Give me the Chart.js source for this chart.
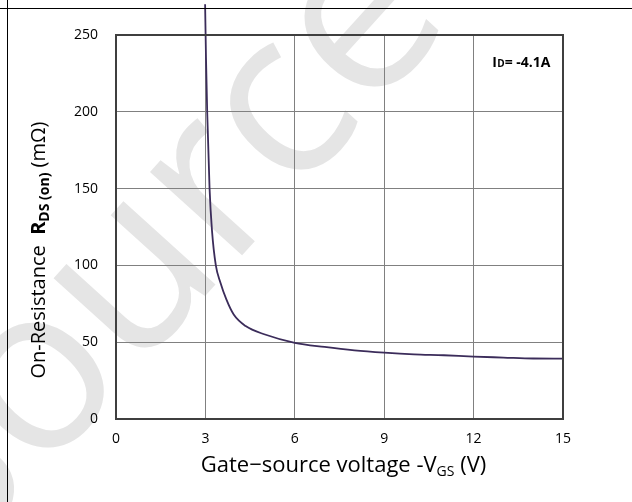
<!DOCTYPE html>
<html>
<head>
<meta charset="utf-8">
<script src="https://cdn.jsdelivr.net/npm/chart.js@4.4.1/dist/chart.umd.min.js"></script>
<style>
  html, body { margin: 0; padding: 0; background: #fff; }
  #wrap { position: relative; width: 632px; height: 502px; overflow: hidden; }
  canvas { display: block; }
  .frameH { position: absolute; left: 0; top: 8px; width: 632px; height: 0; border-top: 1.5px solid #000; }
  .frameV { position: absolute; left: 7px; top: 0; width: 0; height: 502px; border-left: 1.5px solid #000; }
</style>
</head>
<body>
<div id="wrap">
  <canvas id="c" width="632" height="502"></canvas>
  <div class="frameH"></div>
  <div class="frameV"></div>
</div>
<script>
// ---- data ----
const vgs = [2.99, 3.02, 3.06, 3.14, 3.22, 3.35, 3.5, 3.7, 3.95, 4.35, 5.0, 6.0, 7.0, 8.0, 9.0, 10.0, 11.0, 12.0, 13.0, 14.0, 15.0];
const rdsOn = [270, 235, 200, 150, 123, 100, 89, 78, 68, 60.5, 55, 49.6, 46.9, 44.7, 43.2, 42.1, 41.5, 40.6, 40.0, 39.4, 39.3];
const xTicks = [0, 3, 6, 9, 12, 15];
const yTicks = [0, 50, 100, 150, 200, 250];
const xTitle = ['Gate\u2212source voltage -V', 'GS', ' (V)'];
const yTitle = ['On-Resistance  ', 'R', 'DS (on)', ' (m\u03A9)'];
const note = ['I', 'D', '= -4.1A'];
const watermark = 'Source';

const FONT = '"Open Sans", Lato, sans-serif';

const decor = {
  id: 'decor',
  beforeDraw(chart) {
    const ctx = chart.ctx;
    ctx.save();
    ctx.fillStyle = '#fff';
    ctx.fillRect(0, 0, chart.width, chart.height);
    // faint watermark
    ctx.translate(-46, 573);
    ctx.rotate(-47.8 * Math.PI / 180);
    ctx.fillStyle = '#e5e5e5';
    ctx.font = '400 232px "Open Sans", sans-serif';
    ctx.textBaseline = 'alphabetic';
    ctx.fillText(watermark, 0, 0);
    ctx.restore();
  },
  afterDraw(chart) {
    const ctx = chart.ctx;
    const a = chart.chartArea;
    ctx.save();
    // plot frame
    ctx.strokeStyle = '#3f3f3f';
    ctx.lineWidth = 2;
    ctx.strokeRect(a.left, a.top, a.right - a.left, a.bottom - a.top);

    // x axis title with subscript
    ctx.fillStyle = '#000';
    ctx.textBaseline = 'alphabetic';
    const big = '22px ' + FONT, sub = '14px ' + FONT;
    ctx.font = big; const w1 = ctx.measureText(xTitle[0]).width;
    ctx.font = sub; const w2 = ctx.measureText(xTitle[1]).width;
    ctx.font = big; const w3 = ctx.measureText(xTitle[2]).width;
    let x = (a.left + a.right) / 2 + 4 - (w1 + w2 + w3) / 2;
    const by = a.bottom + 53;
    ctx.font = big; ctx.fillText(xTitle[0], x, by); x += w1;
    ctx.font = sub; ctx.fillText(xTitle[1], x, by + 4); x += w2;
    ctx.font = big; ctx.fillText(xTitle[2], x, by);

    // y axis title rotated
    const yb = '20px ' + FONT, bigB = 'bold 20px ' + FONT, subB = 'bold 14px ' + FONT;
    ctx.font = yb; const v1 = ctx.measureText(yTitle[0]).width;
    ctx.font = bigB; const v2 = ctx.measureText(yTitle[1]).width;
    ctx.font = subB; const v3 = ctx.measureText(yTitle[2]).width;
    ctx.font = yb; const v4 = ctx.measureText(yTitle[3]).width;
    const total = v1 + v2 + v3 + v4;
    ctx.translate(45, (a.top + a.bottom) / 2 + 23);
    ctx.rotate(-Math.PI / 2);
    let t = -total / 2;
    ctx.font = yb; ctx.fillText(yTitle[0], t, 0); t += v1;
    ctx.font = bigB; ctx.fillText(yTitle[1], t, 0); t += v2;
    ctx.font = subB; ctx.fillText(yTitle[2], t, 4); t += v3;
    ctx.font = yb; ctx.fillText(yTitle[3], t, 0);
    ctx.restore();

    // I_D note
    ctx.save();
    ctx.fillStyle = '#000';
    ctx.textBaseline = 'alphabetic';
    const nb = 'bold 14px ' + FONT, ns = 'bold 10px ' + FONT;
    ctx.font = nb; const n1 = ctx.measureText(note[0]).width;
    ctx.font = ns; const n2 = ctx.measureText(note[1]).width;
    ctx.font = nb; const n3 = ctx.measureText(note[2]).width;
    let nx = a.right - 13 - (n1 + n2 + n3);
    const ny = a.top + 32;
    ctx.font = nb; ctx.fillText(note[0], nx, ny); nx += n1 + 0.5;
    ctx.font = ns; ctx.fillText(note[1], nx, ny); nx += n2;
    ctx.font = nb; ctx.fillText(note[2], nx, ny);
    ctx.restore();
  }
};

new Chart(document.getElementById('c'), {
  type: 'line',
  data: {
    datasets: [{
      data: vgs.map((v, i) => ({ x: v, y: rdsOn[i] })),
      borderColor: '#3b2c5a',
      borderWidth: 1.8,
      pointRadius: 0,
      cubicInterpolationMode: 'monotone',
      fill: false,
      clip: false
    }]
  },
  options: {
    responsive: false,
    animation: false,
    devicePixelRatio: 1,
    layout: { padding: { left: 0, right: 69, top: 35, bottom: 0 } },
    plugins: { legend: { display: false }, tooltip: { enabled: false } },
    scales: {
      x: {
        type: 'linear', min: 0, max: 15,
        afterBuildTicks: s => { s.ticks = xTicks.map(v => ({ value: v })); },
        afterFit: s => { s.height = 83; },
        grid: { color: '#808080', lineWidth: 1, drawTicks: false },
        border: { display: false },
        ticks: { padding: 12, color: '#000', font: { family: FONT, size: 14 }, maxRotation: 0 },
        title: { display: false }
      },
      y: {
        type: 'linear', min: 0, max: 250,
        afterBuildTicks: s => { s.ticks = yTicks.map(v => ({ value: v })); },
        afterFit: s => { s.width = 116; },
        grid: { color: '#808080', lineWidth: 1, drawTicks: false },
        border: { display: false },
        ticks: { padding: 18, color: '#000', font: { family: FONT, size: 14 } },
        title: { display: false }
      }
    }
  },
  plugins: [decor]
});
</script>
</body>
</html>
